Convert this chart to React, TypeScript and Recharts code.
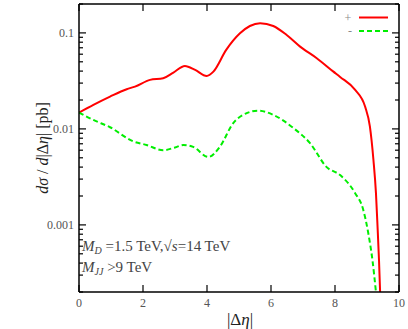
import React from "react";
import { LineChart, Line, XAxis, YAxis, Customized } from "recharts";

const etaPlus = [0, 0.45, 0.97, 1.49, 1.75, 2.22, 2.63, 2.95, 3.31, 3.63, 3.99, 4.2, 4.6, 5.03, 5.34, 5.66, 6.07, 6.49, 6.91, 7.43, 7.95, 8.16, 8.63, 8.94, 9.09, 9.2, 9.28, 9.33, 9.375, 9.41];
const sigmaPlus = [0.0148, 0.0178, 0.0217, 0.0259, 0.0276, 0.0324, 0.0337, 0.0386, 0.0453, 0.0412, 0.0356, 0.0395, 0.0665, 0.099, 0.118, 0.126, 0.118, 0.095, 0.072, 0.0545, 0.0395, 0.0348, 0.0255, 0.0171, 0.0106, 0.0048, 0.00214, 0.00095, 0.00043, 0.0002];
const etaMinus = [0, 0.45, 0.97, 1.7, 2.11, 2.63, 3.0, 3.26, 3.57, 4.04, 4.4, 4.82, 5.24, 5.6, 6.07, 6.7, 7.22, 7.74, 8.16, 8.63, 8.88, 9.04, 9.17, 9.28];
const sigmaMinus = [0.0148, 0.0124, 0.0104, 0.0074, 0.0068, 0.006, 0.0064, 0.0068, 0.0065, 0.0051, 0.0065, 0.0115, 0.0146, 0.0155, 0.014, 0.0102, 0.0071, 0.004, 0.0033, 0.00214, 0.00145, 0.00082, 0.00043, 0.0002];

const xTicks = [0, 2, 4, 6, 8, 10];
const yMajorLabels: Record<string, string> = { "0.1": "0.1", "0.01": "0.01", "0.001": "0.001" };
const yTicks: number[] = [];
[0.0001, 0.001, 0.01, 0.1].forEach((d) => {
  for (let m = 1; m <= 9; m++) {
    const v = +(d * m).toPrecision(3);
    if (v >= 0.0002 && v <= 0.2) yTicks.push(v);
  }
});

const plusData = etaPlus.map((x, i) => ({ x, v: sigmaPlus[i] }));
const minusData = etaMinus.map((x, i) => ({ x, v: sigmaMinus[i] }));

const FONT = "Liberation Serif, Times New Roman, DejaVu Serif, serif";
const RED = "#ff0000";
const GREEN = "#00ee00";
const txt = { fontFamily: FONT };

const isDecade = (v: number) => {
  const l = Math.log10(v);
  return Math.abs(l - Math.round(l)) < 1e-6;
};

const makeYTick = (side: "left" | "right") => (props: any) => {
  const { x, y, payload } = props;
  const v = payload.value;
  const major = isDecade(v);
  const len = major ? 7 : 4;
  const dir = side === "left" ? 1 : -1;
  const label = yMajorLabels[String(v)];
  return (
    <g>
      <line x1={x} y1={y} x2={x + dir * len} y2={y} stroke="#000" strokeWidth={1.2} />
      {side === "left" && label && (
        <text x={x - 5} y={y + 4} textAnchor="end" fontSize={12} fill="#555" style={txt}>
          {label}
        </text>
      )}
    </g>
  );
};

const makeXTick = (side: "bottom" | "top") => (props: any) => {
  const { x, y, payload } = props;
  const dir = side === "bottom" ? -1 : 1;
  return (
    <g>
      <line x1={x} y1={y} x2={x} y2={y + dir * 7} stroke="#000" strokeWidth={1.2} />
      {side === "bottom" && (
        <text x={x} y={y + 15} textAnchor="middle" fontSize={12} fill="#555" style={txt}>
          {payload.value}
        </text>
      )}
    </g>
  );
};

const Overlay = () => (
  <g style={txt}>
    <text x={348} y={21.5} textAnchor="middle" fontSize={12} fill="#888" style={txt}>+</text>
    <line x1={359} y1={17.5} x2={388} y2={17.5} stroke={RED} strokeWidth={2} />
    <text x={350} y={35} textAnchor="middle" fontSize={12} fill="#888" style={txt}>-</text>
    <line x1={359} y1={31} x2={388} y2={31} stroke={GREEN} strokeWidth={2} strokeDasharray="5 3" />
    <text x={82} y={251} fontSize={15} fill="#444" style={txt}>
      <tspan fontStyle="italic">M</tspan>
      <tspan fontStyle="italic" fontSize={10} dy={3}>D</tspan>
      <tspan dy={-3}> =1.5 TeV,√</tspan>
      <tspan fontStyle="italic">s</tspan>
      <tspan>=14 TeV</tspan>
    </text>
    <text x={82} y={272} fontSize={15} fill="#444" style={txt}>
      <tspan fontStyle="italic">M</tspan>
      <tspan fontStyle="italic" fontSize={10} dy={3}>JJ</tspan>
      <tspan dy={-3}> &gt;9 TeV</tspan>
    </text>
    <text x={240} y={325} textAnchor="middle" fontSize={17} fill="#222" style={txt}>
      <tspan>|Δ</tspan>
      <tspan fontStyle="italic">η</tspan>
      <tspan>|</tspan>
    </text>
    <text
      x={0}
      y={0}
      transform="translate(48,148) rotate(-90)"
      textAnchor="middle"
      fontSize={16}
      fill="#222"
      style={txt}
    >
      <tspan fontStyle="italic">dσ</tspan>
      <tspan> / </tspan>
      <tspan fontStyle="italic">d</tspan>
      <tspan>|Δ</tspan>
      <tspan fontStyle="italic">η</tspan>
      <tspan>| [pb]</tspan>
    </text>
  </g>
);

export default function App() {
  return (
    <div style={{ position: "absolute", left: 0, top: 0, width: 408, height: 329, background: "#fff" }}>
      <LineChart width={408} height={329} margin={{ top: 0, right: 0, bottom: 0, left: 0 }}>
        <XAxis
          xAxisId="bottom"
          orientation="bottom"
          dataKey="x"
          type="number"
          domain={[0, 10]}
          ticks={xTicks}
          height={37}
          tickSize={0}
          tickMargin={0}
          tickLine={false}
          axisLine={{ stroke: "#000", strokeWidth: 1.5 }}
          tick={makeXTick("bottom")}
          allowDataOverflow
        />
        <XAxis
          xAxisId="top"
          orientation="top"
          dataKey="x"
          type="number"
          domain={[0, 10]}
          ticks={xTicks}
          height={4}
          tickSize={0}
          tickMargin={0}
          tickLine={false}
          axisLine={{ stroke: "#000", strokeWidth: 1.5 }}
          tick={makeXTick("top")}
          allowDataOverflow
        />
        <YAxis
          yAxisId="left"
          orientation="left"
          scale="log"
          type="number"
          domain={[0.0002, 0.2]}
          ticks={yTicks}
          interval={0}
          width={79}
          tickSize={0}
          tickMargin={0}
          tickLine={false}
          axisLine={{ stroke: "#000", strokeWidth: 1.5 }}
          tick={makeYTick("left")}
          allowDataOverflow
        />
        <YAxis
          yAxisId="right"
          orientation="right"
          scale="log"
          type="number"
          domain={[0.0002, 0.2]}
          ticks={yTicks}
          interval={0}
          width={9}
          tickSize={0}
          tickMargin={0}
          tickLine={false}
          axisLine={{ stroke: "#000", strokeWidth: 1.5 }}
          tick={makeYTick("right")}
          allowDataOverflow
        />
        <Line
          data={plusData}
          dataKey="v"
          xAxisId="bottom"
          yAxisId="left"
          type="monotone"
          stroke={RED}
          strokeWidth={2}
          dot={false}
          isAnimationActive={false}
        />
        <Line
          data={minusData}
          dataKey="v"
          xAxisId="bottom"
          yAxisId="left"
          type="monotone"
          stroke={GREEN}
          strokeWidth={2}
          strokeDasharray="5 3"
          dot={false}
          isAnimationActive={false}
        />
        <Customized component={Overlay} />
      </LineChart>
    </div>
  );
}
